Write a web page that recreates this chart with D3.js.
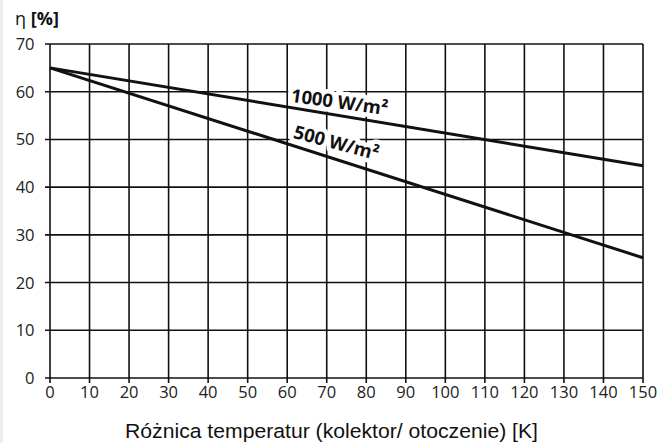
<!DOCTYPE html>
<html>
<head>
<meta charset="utf-8">
<script src="https://cdn.jsdelivr.net/npm/d3@7"></script>
<style>
  body { margin: 0; background: #fff; }
  svg { display: block; }
  text { font-family: "Open Sans", "DejaVu Sans", sans-serif; }
</style>
</head>
<body>
<div id="app"></div>
<script>
const xTicks = [0, 10, 20, 30, 40, 50, 60, 70, 80, 90, 100, 110, 120, 130, 140, 150];
const yTicks = [0, 10, 20, 30, 40, 50, 60, 70];
const seriesNames = ['1000 W/m²', '500 W/m²'];
const seriesX = [0, 150];
const series1000 = [65, 44.5];
const series500 = [65, 25.2];
// where each label sits (x value) and its tilt
const labelX = [73, 72];
const labelAngle = [8, 15];

const width = 662;
const height = 443;
const margin = { left: 50, right: 19, top: 44, bottom: 65 };

const svg = d3.select('#app').append('svg')
	.attr('width', width)
	.attr('height', height);

svg.append('rect')
	.attr('width', 3).attr('height', height)
	.attr('fill', '#ececec');

const x = d3.scaleLinear().domain([0, 150]).range([margin.left, width - margin.right]);
const y = d3.scaleLinear().domain([0, 70]).range([height - margin.bottom, margin.top]);

// grid
svg.append('g')
	.selectAll('line')
	.data(xTicks)
	.join('line')
	.attr('x1', (d) => x(d)).attr('x2', (d) => x(d))
	.attr('y1', y(70)).attr('y2', y(0) + 5)
	.attr('stroke', '#111').attr('stroke-width', 1.6);

svg.append('g')
	.selectAll('line')
	.data(yTicks)
	.join('line')
	.attr('x1', x(0) - 5).attr('x2', x(150))
	.attr('y1', (d) => y(d)).attr('y2', (d) => y(d))
	.attr('stroke', '#111').attr('stroke-width', 1.6);

// tick labels
svg.append('g')
	.selectAll('text')
	.data(xTicks)
	.join('text')
	.attr('x', (d) => x(d))
	.attr('y', y(0) + 19.5)
	.attr('text-anchor', 'middle')
	.attr('font-size', 16.5)
	.attr('fill', '#222')
	.text((d) => d);

svg.append('g')
	.selectAll('text')
	.data(yTicks)
	.join('text')
	.attr('x', 34.5)
	.attr('y', (d) => y(d))
	.attr('dy', '0.36em')
	.attr('text-anchor', 'end')
	.attr('font-size', 16.5)
	.attr('fill', '#222')
	.text((d) => d);

svg.append('text')
	.attr('x', 15).attr('y', 25)
	.attr('font-size', 18)
	.attr('fill', '#111')
	.html('η <tspan font-weight="bold">[%]</tspan>');

svg.append('text')
	.attr('x', 125)
	.attr('y', 438)
	.style('font-family', '"Liberation Sans", Arial, sans-serif')
	.attr('font-size', 20.5)
	.attr('textLength', 413)
	.attr('lengthAdjust', 'spacingAndGlyphs')
	.attr('fill', '#111')
	.text('Różnica temperatur (kolektor/ otoczenie) [K]');

const allSeries = [series1000, series500];

// labels along lines, white box behind hides the grid
allSeries.forEach((s, i) => {
	const xv = labelX[i];
	const yv = s[0] + (s[1] - s[0]) * xv / 150;
	const lx = x(xv);
	const ly = y(yv) - (i === 0 ? 7 : 10);
	svg.append('text')
		.attr('transform', `translate(${lx},${ly}) rotate(${labelAngle[i]})`)
		.attr('text-anchor', 'middle')
		.attr('font-size', 18.5)
		.attr('font-weight', 'bold')
		.attr('fill', '#111')
		.attr('stroke', '#fff')
		.attr('stroke-width', 9)
		.attr('stroke-linejoin', 'round')
		.attr('paint-order', 'stroke')
		.text(seriesNames[i]);
});

// data lines
const line = d3.line().x((d) => x(d[0])).y((d) => y(d[1]));

svg.append('g')
	.selectAll('path')
	.data(allSeries)
	.join('path')
	.attr('d', (s) => line(seriesX.map((v, i) => [v, s[i]])))
	.attr('fill', 'none')
	.attr('stroke', '#111')
	.attr('stroke-width', 3);
</script>
</body>
</html>
